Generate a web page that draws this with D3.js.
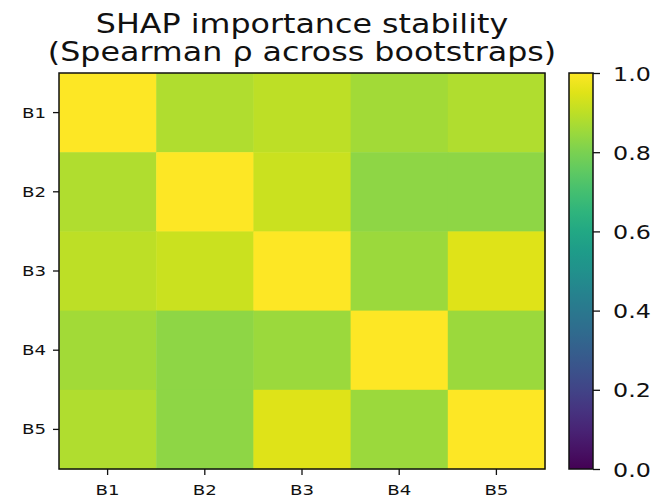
<!DOCTYPE html>
<html>
<head>
<meta charset="utf-8">
<script src="https://cdn.jsdelivr.net/npm/d3@7"></script>
<style>
  body { margin: 0; background: #fff; }
  text { font-family: "DejaVu Sans", sans-serif; fill: #111; }
</style>
</head>
<body>
<div id="chart"></div>
<script>
// bootstrap labels and spearman matrix (rows x cols)
var labels = ["B1", "B2", "B3", "B4", "B5"];
var rowB1 = [1.00, 0.88, 0.90, 0.86, 0.88];
var rowB2 = [0.88, 1.00, 0.92, 0.83, 0.83];
var rowB3 = [0.90, 0.92, 1.00, 0.85, 0.95];
var rowB4 = [0.86, 0.83, 0.85, 1.00, 0.85];
var rowB5 = [0.88, 0.83, 0.95, 0.85, 1.00];
var rows = [rowB1, rowB2, rowB3, rowB4, rowB5];
var cbTicks = [0.0, 0.2, 0.4, 0.6, 0.8, 1.0];

var W = 655, H = 499;
// 绘图区边界 (window.top 是保留名, 所以用 pTop)
var pLeft = 59, pTop = 73, pRight = 545, pBottom = 469;
// 原图的文字横向被拉宽了
var stretch = 1.22;

var svg = d3.select("#chart").append("svg")
    .attr("width", W)
    .attr("height", H);

// 网格数据
var cells = [];
rows.forEach(function(r, i) {
    r.forEach(function(v, j) {
        cells.push({ row: labels[i], col: labels[j], v: v });
    });
});

var x = d3.scaleBand().domain(labels).range([pLeft, pRight]);
var y = d3.scaleBand().domain(labels).range([pTop, pBottom]);
var color = d3.scaleSequential(d3.interpolateViridis).domain([0, 1]);

svg.append("g").selectAll("rect")
    .data(cells)
    .enter().append("rect")
    .attr("x", function(d) { return x(d.col); })
    .attr("y", function(d) { return y(d.row); })
    .attr("width", x.bandwidth() + 0.5)
    .attr("height", y.bandwidth() + 0.5)
    .attr("fill", function(d) { return color(d.v); });

svg.append("rect")
    .attr("x", pLeft).attr("y", pTop)
    .attr("width", pRight - pLeft).attr("height", pBottom - pTop)
    .attr("fill", "none").attr("stroke", "#111").attr("stroke-width", 1.5);

// 把 axis 里的文字改成拉宽的样子
function styleTicks(a, size, sx, dx, dy, anchor) {
    a.select(".domain").remove();
    a.selectAll("line").attr("stroke", "#111").attr("stroke-width", 1.3);
    a.selectAll("text")
        .attr("x", null).attr("dy", null).attr("y", null)
        .attr("text-anchor", anchor)
        .attr("transform", "translate(" + dx + "," + dy + ") scale(" + sx + ",1)")
        .style("font-family", "DejaVu Sans")
        .style("font-size", size + "px")
        .attr("fill", "#111");
}

var xAxis = svg.append("g")
    .attr("transform", "translate(0," + pBottom + ")")
    .call(d3.axisBottom(x).tickSize(6));
styleTicks(xAxis, 14, 1.3, 0, 26, "middle");

var yAxis = svg.append("g")
    .attr("transform", "translate(" + pLeft + ",0)")
    .call(d3.axisLeft(y).tickSize(6));
styleTicks(yAxis, 14, 1.3, -13, 5, "end");

// colorbar
var cbX = 569, cbW = 24;
var grad = svg.append("defs").append("linearGradient")
    .attr("id", "cbgrad")
    .attr("x1", "0").attr("y1", "1").attr("x2", "0").attr("y2", "0");
d3.range(0, 1.0001, 0.05).forEach(function(t) {
    grad.append("stop").attr("offset", t).attr("stop-color", color(t));
});
svg.append("rect")
    .attr("x", cbX).attr("y", pTop)
    .attr("width", cbW).attr("height", pBottom - pTop)
    .attr("fill", "url(#cbgrad)")
    .attr("stroke", "#111").attr("stroke-width", 1.5);

var cbScale = d3.scaleLinear().domain([0, 1]).range([pBottom, pTop]);
var cbAxis = svg.append("g")
    .attr("transform", "translate(" + (cbX + cbW) + ",0)")
    .call(d3.axisRight(cbScale).tickValues(cbTicks).tickFormat(d3.format(".1f")).tickSize(7));
styleTicks(cbAxis, 19.5, stretch, 20, 7, "start");

// 标题
var cx = (pLeft + pRight) / 2;
var title = svg.append("g").attr("transform", "translate(" + cx + ",0) scale(" + stretch + ",1)");
title.append("text").attr("text-anchor", "middle").attr("y", 33)
    .style("font-size", "26px").text("SHAP importance stability");
title.append("text").attr("text-anchor", "middle").attr("y", 61)
    .style("font-size", "26px").text("(Spearman ρ across bootstraps)");
</script>
</body>
</html>
